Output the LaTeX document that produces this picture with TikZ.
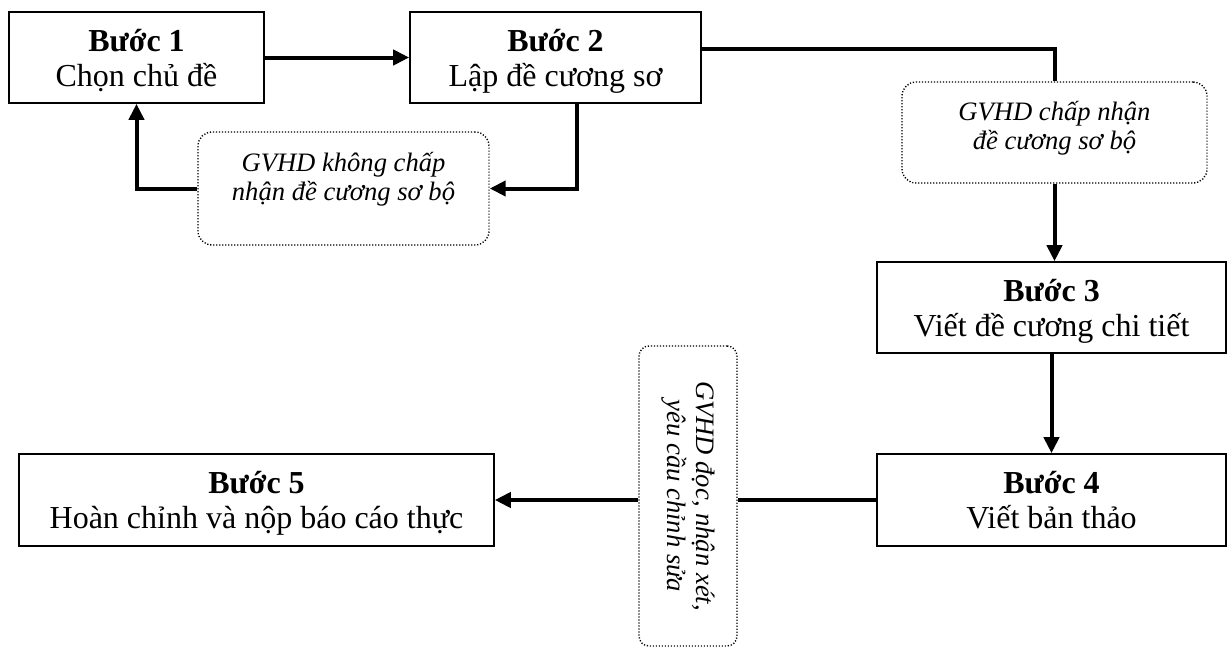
\documentclass[tikz,border=0pt]{standalone}
\usepackage{fontspec}
\setmainfont{Liberation Serif}
\usetikzlibrary{arrows.meta}

\begin{document}
\begin{tikzpicture}[x=0.5pt, y=-0.5pt,
        stepbox/.style={draw, line width=0.8pt, align=center, inner sep=0pt, text depth=0pt,
            minimum height=45.5pt, font=\fontsize{16}{17.5}\selectfont},
        note/.style={draw, line width=0.7pt, dash pattern=on 0.6pt off 0.9pt,
            rounded corners=7pt, inner sep=0pt},
        notetext/.style={align=center, inner sep=0pt, font=\itshape\fontsize{13.3}{14.5}\selectfont},
        conn/.style={line width=2pt},
        arr/.style={conn, -{Triangle[length=8pt, width=7.5pt]}}]
    \useasboundingbox (0,0) rectangle (1227,648);

    % Schritte
    \node[stepbox, minimum width=127.5pt] (b1) at (136.5, 57.5) {\textbf{Bước 1}\\Chọn chủ đề};
    \node[stepbox, minimum width=145.5pt] (b2) at (555.5, 57.5) {\textbf{Bước 2}\\Lập đề cương sơ};
    \node[stepbox, minimum width=174.5pt] (b3) at (1051.5, 307.5) {\textbf{Bước 3}\\Viết đề cương chi tiết};
    \node[stepbox, minimum width=174.5pt, minimum height=46pt] (b4) at (1051.5, 500) {\textbf{Bước 4}\\Viết bản thảo};
    \node[stepbox, minimum width=237.5pt, minimum height=46pt] (b5) at (256.5, 500) {\textbf{Bước 5}\\Hoàn chỉnh và nộp báo cáo thực};

    % Hinweise
    \node[note, notetext, text depth=12pt, minimum width=145.5pt, minimum height=56.5pt] (n1) at (343.5, 188.5) {GVHD không chấp\\nhận đề cương sơ bộ};
    \node[note, notetext, text depth=7pt, minimum width=152.5pt, minimum height=50.5pt] (n2) at (1054.5, 132.5) {GVHD chấp nhận\\đề cương sơ bộ};
    \node[note, rounded corners=5pt, minimum width=49pt, minimum height=150pt] (n3) at (688, 496) {};
    \node[notetext, rotate=-90] (n3t) at (n3.center) {GVHD đọc, nhận xét,\\yêu cầu chỉnh sửa};

    % Pfeile
    \draw[arr] (b1.east) -- (b2.west);
    \draw[arr] ([xshift=10.75pt]b2.south) |- (n1.east);
    \draw[arr] (n1.west) -| (b1.south);
    \draw[conn] ([yshift=4.25pt]b2.east) -| (n2.north);
    \draw[arr] (n2.south) -- (n2.south |- b3.north);
    \draw[arr] (b3.south) -- (b4.north);
    \draw[conn] (b4.west) -- (b4.west -| n3.east);
    \draw[arr] (b4.west -| n3.west) -- (b5.east);
\end{tikzpicture}
\end{document}
